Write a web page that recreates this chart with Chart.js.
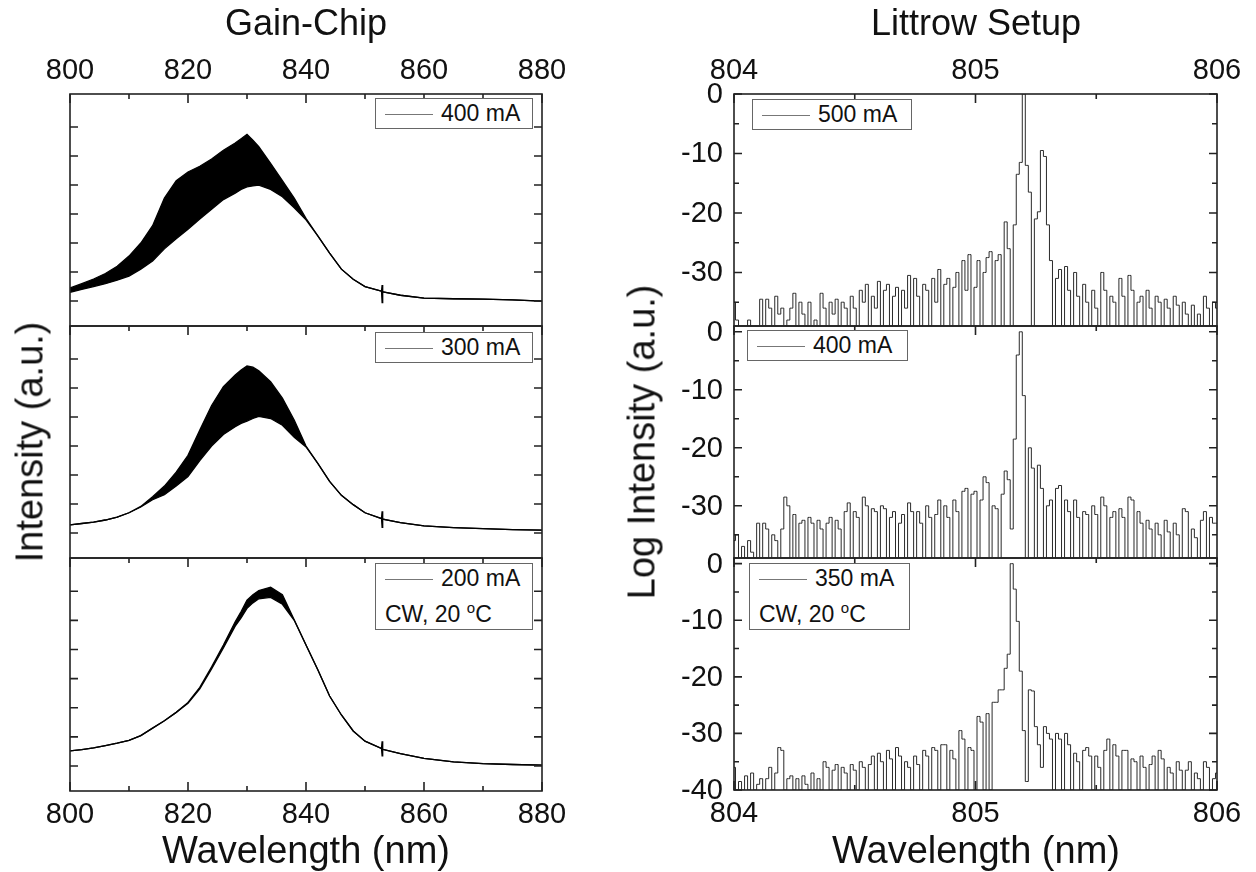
<!DOCTYPE html>
<html>
<head>
<meta charset="utf-8">
<script src="https://cdn.jsdelivr.net/npm/chart.js@4/dist/chart.umd.min.js"></script>
<style>
  body { margin: 0; background: #fff; }
  #wrap { position: relative; width: 1256px; height: 872px; font-family: "Liberation Sans", Arial, sans-serif; color: #111; }
  canvas { position: absolute; left: 0; top: 0; }
  .t { position: absolute; white-space: nowrap; transform: translate(-50%, -50%); }
  .rot { transform: translate(-50%, -50%) rotate(-90deg); }
  .leg { position: absolute; border: 1px solid #666; background: #fff; font-size: 23px; line-height: 29px; box-sizing: border-box; padding: 0 0 0 9px; white-space: nowrap; }
  .leg .ln { display: inline-block; width: 48px; border-top: 1px solid #777; vertical-align: middle; margin-right: 8px; }
</style>
</head>
<body>
<div id="wrap">
  <div class="t" style="left:306px;top:23px;font-size:36px">Gain-Chip</div>
  <div class="t" style="left:976px;top:23px;font-size:36px">Littrow Setup</div>
  <div class="t rot" style="left:30px;top:442px;font-size:38px">Intensity (a.u.)</div>
  <div class="t rot" style="left:642px;top:442px;font-size:38px">Log Intensity (a.u.)</div>
  <div class="t" style="left:306px;top:850px;font-size:38px">Wavelength (nm)</div>
  <div class="t" style="left:976px;top:850px;font-size:38px">Wavelength (nm)</div>
</div>
<script>
// ---- data ----
const gainWavelength = [800, 802, 804, 806, 808, 810, 812, 814, 816, 818, 820, 822, 824, 826, 828, 829, 830, 831, 832, 834, 836, 838, 840, 842, 844, 846, 848, 850, 852.8, 852.9, 853.0, 856, 860, 865, 870, 875, 880];
// upper / lower edge of the fringe band (a.u.)
const gain400Upper = [0.45, 0.6, 0.76, 0.95, 1.2, 1.55, 2.0, 2.6, 3.55, 4.15, 4.45, 4.65, 4.9, 5.2, 5.45, 5.6, 5.75, 5.55, 5.32, 4.75, 4.15, 3.55, 2.85, 2.25, 1.65, 1.1, 0.75, 0.5, 0.34, 0.55, 0.32, 0.2, 0.1, 0.08, 0.07, 0.04, 0.0];
const gain400Lower = [0.3, 0.4, 0.5, 0.6, 0.72, 0.86, 1.1, 1.38, 1.8, 2.15, 2.48, 2.83, 3.17, 3.5, 3.72, 3.85, 3.94, 3.97, 4.0, 3.85, 3.6, 3.22, 2.8, 2.25, 1.65, 1.1, 0.75, 0.5, 0.34, -0.05, 0.32, 0.2, 0.1, 0.08, 0.07, 0.04, 0.0];
const gain300Upper = [0.28, 0.33, 0.38, 0.45, 0.55, 0.7, 0.92, 1.25, 1.62, 2.1, 2.68, 3.55, 4.4, 5.05, 5.45, 5.62, 5.76, 5.72, 5.6, 5.22, 4.65, 3.9, 3.0, 2.4, 1.78, 1.3, 0.98, 0.7, 0.5, 0.75, 0.48, 0.36, 0.25, 0.19, 0.15, 0.12, 0.1];
const gain300Lower = [0.28, 0.33, 0.38, 0.45, 0.55, 0.7, 0.9, 1.15, 1.32, 1.62, 1.95, 2.5, 3.0, 3.4, 3.67, 3.78, 3.86, 3.95, 4.02, 3.95, 3.72, 3.3, 2.97, 2.4, 1.78, 1.3, 0.98, 0.7, 0.5, 0.2, 0.48, 0.36, 0.25, 0.19, 0.15, 0.12, 0.1];
const gain200Upper = [0.52, 0.56, 0.62, 0.7, 0.78, 0.88, 1.04, 1.3, 1.55, 1.84, 2.18, 2.7, 3.4, 4.15, 4.95, 5.3, 5.69, 5.88, 6.02, 6.14, 5.88, 5.02, 4.15, 3.3, 2.4, 1.75, 1.2, 0.85, 0.6, 0.85, 0.57, 0.42, 0.26, 0.14, 0.08, 0.05, 0.03];
const gain200Lower = [0.52, 0.56, 0.62, 0.7, 0.78, 0.88, 1.04, 1.3, 1.55, 1.84, 2.15, 2.65, 3.33, 4.05, 4.8, 5.08, 5.41, 5.6, 5.74, 5.79, 5.55, 5.0, 4.15, 3.3, 2.4, 1.75, 1.2, 0.85, 0.6, 0.35, 0.57, 0.42, 0.26, 0.14, 0.08, 0.05, 0.03];

// spectrometer samples: 804 nm, every 0.0125 nm
const littrowStart = 804;
const littrowStep = 0.0125;
const littrow500 = [
  -35, -38, -40, -39, -40, -38, -40, -40, -40, -34.5,
  -40, -34.5, -36, -40, -34, -37, -36, -40, -38, -36,
  -33.5, -40, -35, -37, -40, -35, -40, -38, -40, -33.5,
  -36, -40, -35, -37, -34.5, -40, -35, -36, -40, -34,
  -36, -40, -33, -35, -32, -40, -34, -36, -31.5, -40,
  -33, -32, -40, -34, -32.5, -40, -33, -36, -30.5, -40,
  -31, -34, -40, -32, -33, -40, -31, -35, -29.5, -40,
  -32, -31, -40, -32.5, -30, -40, -28, -33, -27, -40,
  -32.5, -28, -40, -30, -27.5, -26.5, -40, -28, -27, -40,
  -21.5, -26, -40, -22, -13.5, -11.5, 0, -12, -16.5, -40,
  -21, -19.8, -9.5, -10.5, -22, -28, -40, -31, -29.5, -40,
  -29, -33, -40, -30, -34, -40, -32, -35, -40, -33,
  -36, -40, -30, -33, -40, -34, -35, -40, -31, -34,
  -40, -30.5, -33, -40, -35, -34, -40, -33, -36, -40,
  -34, -35, -40, -34.5, -36, -40, -34, -35.5, -40, -35,
  -37, -40, -35.5, -40, -37, -40, -34, -36, -40, -35, -36
];
const littrow400 = [
  -36, -35, -40, -37, -40, -36, -38, -40, -33, -40,
  -33, -34, -40, -35, -36, -40, -34, -28.5, -30, -40,
  -31.5, -40, -33, -32.5, -40, -32, -33, -40, -32.5, -34,
  -40, -33, -32, -40, -32.5, -34, -40, -31, -29.5, -40,
  -31, -32, -40, -28.5, -30, -40, -30.5, -31, -40, -30,
  -30.5, -40, -32, -31, -40, -33, -31.5, -40, -29.5, -31,
  -40, -31, -33, -40, -30, -32, -40, -31.5, -29, -40,
  -30, -32, -40, -29, -31, -40, -27.5, -27, -40, -28,
  -27.5, -40, -29, -25, -26, -40, -30, -30.5, -40, -28,
  -24, -25.5, -34, -18.5, -4, 0, -11, -40, -20, -23.5,
  -40, -23, -27, -40, -30, -29, -40, -27, -26.5, -40,
  -29, -31, -40, -29, -32, -40, -31, -31.5, -40, -30,
  -31.5, -40, -28.5, -30, -40, -32, -31, -40, -30.5, -32,
  -40, -28.5, -29, -40, -31, -33, -40, -32.5, -34, -40,
  -33, -35, -40, -32.5, -34.5, -40, -33, -35, -40, -30.5,
  -31, -40, -34, -35.5, -40, -32.5, -31, -40, -32, -33, -33
];
const littrow350 = [
  -36, -40, -38.5, -40, -37.5, -40, -37, -40, -39, -38,
  -40, -38, -36, -40, -37, -32.5, -33, -40, -38, -37.5,
  -40, -38, -40, -37.5, -39, -40, -37, -40, -38, -40,
  -35, -36, -40, -36.5, -35.5, -40, -36, -37, -40, -35.5,
  -36.5, -40, -35, -36, -40, -35.5, -34, -40, -33.5, -35,
  -40, -33, -34.5, -40, -32.5, -34, -40, -35, -36, -40,
  -34, -35.5, -40, -33, -34, -40, -32.5, -33, -40, -32,
  -32, -40, -33, -34.5, -40, -29.5, -31, -40, -32.5, -33,
  -40, -27, -28, -40, -26.5, -40, -24.5, -24.5, -22.3, -22.3,
  -18.5, -16, 0, -4.5, -10.2, -19, -29.5, -38.5, -22.3, -22.5,
  -28.8, -32, -36, -28.8, -30, -31, -40, -30, -31, -40,
  -30, -32, -40, -33.5, -35, -40, -33, -32.5, -34, -40,
  -34, -36, -40, -33, -31, -40, -32, -34, -40, -33,
  -33, -40, -34.5, -35, -40, -34, -36, -40, -35.5, -34,
  -40, -33, -34.5, -40, -36, -37, -40, -35, -36.5, -40,
  -36.5, -35, -40, -37, -38, -40, -35, -36, -40, -38, -37
];

const gainCurrents = ['400 mA', '300 mA', '200 mA'];
const littrowCurrents = ['500 mA', '400 mA', '350 mA'];
const gainTicks = [800, 820, 840, 860, 880];
const gainMinor = [810, 830, 850, 870];
const gainYTicks = [0, 1, 2, 3, 4, 5, 6];
const littrowTicks = [804, 805, 806];
const littrowMinor = [804.5, 805.5];
const logTicks = [0, -10, -20, -30, -40];
const logMinor = [-5, -15, -25, -35];

// ---- drawing ----
const W = 1256, H = 872;
const wrap = document.getElementById('wrap');
const tickFont = '29px "Liberation Sans", Arial, sans-serif';
const toPts = (xs, ys) => ys.map((y, i) => ({ x: xs[i], y }));
const littrowWl = littrow500.map((_, i) => littrowStart + i * littrowStep);

// frame, inward ticks and tick labels
const frameTicks = {
  id: 'frameTicks',
  afterDatasetsDraw(chart, args, o) {
    const { ctx, chartArea: a } = chart;
    const x = chart.scales.x, y = chart.scales.y;
    ctx.save();
    ctx.strokeStyle = '#222';
    ctx.lineWidth = 1.6;
    ctx.strokeRect(a.left, a.top, a.right - a.left, a.bottom - a.top);
    ctx.beginPath();
    const mark = (px, py, dx, dy) => { ctx.moveTo(px, py); ctx.lineTo(px + dx, py + dy); };
    o.xMajor.forEach(v => {
      const p = x.getPixelForValue(v);
      mark(p, a.top, 0, 9);
      if (o.bottom) mark(p, a.bottom, 0, -9);
    });
    o.xMinor.forEach(v => {
      const p = x.getPixelForValue(v);
      mark(p, a.top, 0, 5);
      if (o.bottom) mark(p, a.bottom, 0, -5);
    });
    o.yMajor.forEach(v => {
      if (v < y.min || v > y.max) return;
      const p = y.getPixelForValue(v);
      mark(a.left, p, 8, 0);
      mark(a.right, p, -8, 0);
    });
    o.yMinor.forEach(v => {
      if (v < y.min || v > y.max) return;
      const p = y.getPixelForValue(v);
      mark(a.left, p, 5, 0);
      mark(a.right, p, -5, 0);
    });
    ctx.stroke();

    ctx.fillStyle = '#111';
    ctx.font = tickFont;
    ctx.textAlign = 'center';
    ctx.textBaseline = 'alphabetic';
    if (o.topLabels) o.xMajor.forEach(v => ctx.fillText(String(v), x.getPixelForValue(v), a.top - 15));
    if (o.bottom) o.xMajor.forEach(v => ctx.fillText(String(v), x.getPixelForValue(v), a.bottom + 32));
    if (o.yLabels) {
      ctx.textAlign = 'right';
      ctx.textBaseline = 'middle';
      o.yMajor.forEach(v => {
        if (v < y.min || v > y.max) return;
        ctx.fillText(String(v), a.left - 11, y.getPixelForValue(v) + 1);
      });
    }
    ctx.restore();
  }
};

function makeChart(box, xr, yr, datasets, ticks) {
  const canvas = document.createElement('canvas');
  canvas.width = W; canvas.height = H;
  canvas.style.width = W + 'px'; canvas.style.height = H + 'px';
  wrap.insertBefore(canvas, wrap.firstChild);
  return new Chart(canvas, {
    type: 'line',
    data: { datasets },
    options: {
      responsive: false,
      animation: false,
      devicePixelRatio: 1,
      events: [],
      layout: { padding: { left: box.l, right: W - box.r, top: box.t, bottom: H - box.b } },
      scales: {
        x: { type: 'linear', display: false, min: xr[0], max: xr[1] },
        y: { type: 'linear', display: false, min: yr[0], max: yr[1] }
      },
      plugins: { legend: { display: false }, tooltip: { enabled: false }, frameTicks: ticks }
    },
    plugins: [frameTicks]
  });
}

function bandSets(upper, lower) {
  return [
    { data: toPts(gainWavelength, upper), borderColor: '#000', borderWidth: 1.3, pointRadius: 0, fill: false },
    { data: toPts(gainWavelength, lower), borderColor: '#000', borderWidth: 1.3, pointRadius: 0, fill: '-1', backgroundColor: '#000' }
  ];
}

function traceSet(vals) {
  return [{ data: toPts(littrowWl, vals), borderColor: '#2a2a2a', borderWidth: 1, pointRadius: 0, stepped: 'middle', clip: 0 }];
}

function addLegend(left, top, width, label, extra) {
  const d = document.createElement('div');
  d.className = 'leg';
  d.style.left = left + 'px';
  d.style.top = top + 'px';
  d.style.width = width + 'px';
  d.innerHTML = '<span class="ln"></span>' + label + (extra ? '<br>' + extra : '');
  wrap.appendChild(d);
}

// left column: Gain-Chip
const gainRows = [[94, 326], [326, 558], [558, 791]];
const gainBands = [[gain400Upper, gain400Lower], [gain300Upper, gain300Lower], [gain200Upper, gain200Lower]];
gainRows.forEach((r, i) => {
  makeChart({ l: 70, r: 542, t: r[0], b: r[1] }, [800, 880], [-0.86, 7.14],
    bandSets(gainBands[i][0], gainBands[i][1]),
    { xMajor: gainTicks, xMinor: gainMinor, yMajor: gainYTicks, yMinor: [],
      topLabels: i === 0, bottom: i === 2, yLabels: false });
});

// right column: Littrow setup
const littrowRows = [[94, 326, -39, 0], [326, 558, -39, 1], [558, 790, -40, 1]];
const littrowData = [littrow500, littrow400, littrow350];
littrowRows.forEach((r, i) => {
  makeChart({ l: 734, r: 1217, t: r[0], b: r[1] }, [804, 806], [r[2], r[3]],
    traceSet(littrowData[i]),
    { xMajor: littrowTicks, xMinor: littrowMinor, yMajor: logTicks, yMinor: logMinor,
      topLabels: i === 0, bottom: i === 2, yLabels: true });
});

const cw = 'CW, 20 <sup style="font-size:15px">o</sup>C';
addLegend(375, 98, 158, gainCurrents[0]);
addLegend(375, 332, 158, gainCurrents[1]);
addLegend(375, 563, 158, gainCurrents[2], cw);
addLegend(752, 99, 160, littrowCurrents[0]);
addLegend(747, 330, 161, littrowCurrents[1]);
addLegend(749, 563, 161, littrowCurrents[2], cw);
</script>
</body>
</html>
